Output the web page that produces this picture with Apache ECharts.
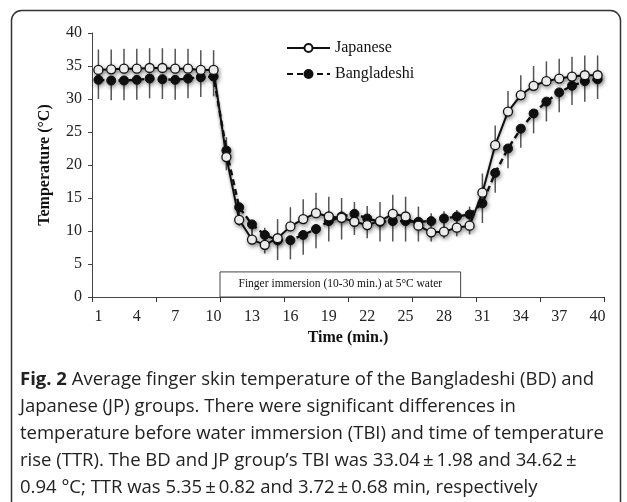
<!DOCTYPE html>
<html lang="en">
<head>
<meta charset="utf-8">
<title>Finger skin temperature</title>
<style>
  * { padding: 0; margin: 0; }
  html, body, #chart { width: 627px; height: 502px; background: #fff; }
</style>
</head>
<body>
<div id="chart"></div>
<script src="https://cdn.jsdelivr.net/npm/echarts@6/dist/echarts.min.js"></script>
<script>
// minutes 1..40
var minutes = [];
for (var m = 1; m <= 40; m++) minutes.push(String(m));

var japanese = [
  34.4, 34.5, 34.6, 34.6, 34.7, 34.7, 34.6, 34.6, 34.4, 34.4,
  21.2, 11.7, 8.7, 7.9, 8.9, 10.7, 11.8, 12.7, 12.2, 12.0,
  11.4, 10.9, 11.5, 12.6, 12.2, 10.8, 9.8, 9.9, 10.5, 10.8,
  15.8, 23.0, 28.1, 30.6, 32.0, 32.7, 33.1, 33.4, 33.6, 33.6
];
var bangladeshi = [
  32.9, 32.8, 32.8, 32.9, 33.1, 33.0, 32.9, 33.1, 33.3, 33.4,
  22.2, 13.6, 11.0, 9.4, 8.6, 8.6, 9.4, 10.3, 11.5, 12.2,
  12.6, 11.9, 11.4, 11.5, 11.5, 11.4, 11.5, 11.9, 12.2, 12.5,
  14.2, 18.8, 22.5, 25.5, 27.8, 29.6, 31.0, 32.0, 32.7, 33.0
];
// SD bars: Japanese drawn upward, Bangladeshi drawn downward
var japaneseSD = [
  3.1, 3.0, 3.0, 3.0, 3.0, 3.0, 3.0, 3.0, 3.0, 3.0,
  3.0, 2.5, 2.5, 2.6, 2.9, 2.9, 3.0, 3.1, 3.0, 3.0,
  3.0, 2.9, 2.9, 2.9, 3.0, 2.9, 2.9, 3.1, 2.7, 2.9,
  2.9, 3.0, 3.1, 3.0, 3.0, 3.0, 3.0, 3.0, 3.0, 3.0
];
var bangladeshiSD = [
  2.9, 3.0, 3.0, 3.0, 3.0, 3.0, 3.0, 3.0, 3.0, 3.0,
  3.0, 2.8, 2.8, 2.8, 3.0, 2.9, 3.0, 2.9, 3.1, 3.5,
  3.2, 3.0, 3.0, 3.1, 3.1, 3.0, 3.1, 3.0, 3.0, 3.0,
  3.0, 3.0, 3.0, 2.9, 3.0, 3.0, 3.0, 2.9, 3.1, 3.0
];
var immersionBox = [10.5, 29.3, 3.8]; // from, to (minute scale), height
var immersionText = 'Finger immersion (10-30 min.) at 5°C water';

var captionLines = [
  '{b|Fig. 2} Average finger skin temperature of the Bangladeshi (BD) and',
  'Japanese (JP) groups. There were significant differences in',
  'temperature before water immersion (TBI) and time of temperature',
  'rise (TTR). The BD and JP group\u2019s TBI was 33.04\u2009\u00b1\u20091.98 and 34.62\u2009\u00b1',
  '0.94 \u00b0C; TTR was 5.35\u2009\u00b1\u20090.82 and 3.72\u2009\u00b1\u20090.68 min, respectively'
];

var serif = '"Liberation Serif", "Times New Roman", serif';
var sans = '"Open Sans", "Noto Sans", sans-serif';

function barData(mean, sd, dir) {
  return mean.map(function (v, i) { return [i, v, v + dir * sd[i]]; });
}
function renderBar(params, api) {
  var p1 = api.coord([api.value(0), api.value(1)]);
  var p2 = api.coord([api.value(0), api.value(2)]);
  return {
    type: 'line',
    shape: { x1: p1[0], y1: p1[1], x2: p2[0], y2: p2[1] },
    style: { stroke: '#555', lineWidth: 1.5 }
  };
}

var graphics = [{
  type: 'rect', left: 9, top: 8, z: -1,
  shape: { width: 609, height: 520, r: 10 },
  style: { fill: 'none', stroke: '#333', lineWidth: 1.5 }
}];
captionLines.forEach(function (t, i) {
  graphics.push({
    type: 'text', left: 20, top: 370 + i * 27,
    style: {
      text: t, fill: '#222', font: '18.5px ' + sans,
      rich: { b: { fontWeight: 'bold', fontSize: 18.5, fontFamily: sans, fill: '#222' } }
    }
  });
});

var chart = echarts.init(document.getElementById('chart'));
chart.setOption({
  backgroundColor: '#fff',
  animation: false,
  grid: { left: 92, right: 23, top: 33, bottom: 205 },
  legend: {
    orient: 'vertical', left: 281, top: 35, itemWidth: 43, itemHeight: 10, itemGap: 10,
    textStyle: { fontFamily: serif, fontSize: 16, color: '#111' },
    data: ['Japanese', 'Bangladeshi']
  },
  xAxis: [{
    type: 'category', data: minutes, boundaryGap: true,
    name: 'Time (min.)', nameLocation: 'middle', nameGap: 32,
    nameTextStyle: { fontFamily: serif, fontSize: 16, fontWeight: 'bold', color: '#111' },
    axisLine: { lineStyle: { color: '#444', width: 1 } },
    axisTick: { show: true, interval: 4, length: 5, lineStyle: { color: '#333', width: 1 } },
    axisLabel: { interval: 2, fontFamily: serif, fontSize: 16, color: '#222', margin: 12 }
  }, {
    type: 'value', min: 0.5, max: 40.5, show: false
  }],
  yAxis: {
    type: 'value', min: 0, max: 40, interval: 5,
    name: 'Temperature (°C)', nameLocation: 'middle', nameGap: 39,
    nameTextStyle: { fontFamily: serif, fontSize: 16, fontWeight: 'bold', color: '#111' },
    axisLine: { show: true, lineStyle: { color: '#444', width: 1 } },
    axisTick: { show: true, length: 4, lineStyle: { color: '#444' } },
    splitLine: { show: false },
    axisLabel: { fontFamily: serif, fontSize: 16, color: '#222', margin: 10 }
  },
  graphic: graphics,
  series: [
    {
      type: 'custom', name: 'jpSD', z: 1, renderItem: renderBar,
      data: barData(japanese, japaneseSD, 1), encode: { x: 0, y: [1, 2] }, silent: true
    },
    {
      type: 'custom', name: 'bdSD', z: 1, renderItem: renderBar,
      data: barData(bangladeshi, bangladeshiSD, -1), encode: { x: 0, y: [1, 2] }, silent: true
    },
    {
      type: 'line', name: 'Bangladeshi', data: bangladeshi, z: 3,
      symbol: 'circle', symbolSize: 9, showAllSymbol: true,
      lineStyle: { color: '#111', width: 2.4, type: [6, 4],
        shadowBlur: 3, shadowColor: 'rgba(0,0,0,0.35)', shadowOffsetY: 2 },
      itemStyle: { color: '#111', borderColor: '#111', borderWidth: 1,
        shadowBlur: 4, shadowColor: 'rgba(0,0,0,0.4)', shadowOffsetX: 1, shadowOffsetY: 2 }
    },
    {
      type: 'line', name: 'Japanese', data: japanese, z: 4,
      symbol: 'circle', symbolSize: 9, showAllSymbol: true,
      lineStyle: { color: '#111', width: 2,
        shadowBlur: 3, shadowColor: 'rgba(0,0,0,0.35)', shadowOffsetY: 2 },
      itemStyle: { color: '#fff', borderColor: '#111', borderWidth: 1.3,
        shadowBlur: 4, shadowColor: 'rgba(0,0,0,0.4)', shadowOffsetX: 1, shadowOffsetY: 2 }
    },
    {
      type: 'line', name: 'box', xAxisIndex: 1, data: [], silent: true,
      markArea: {
        silent: true,
        itemStyle: { color: '#fff', borderColor: '#444', borderWidth: 1 },
        label: { show: true, position: 'inside', formatter: immersionText,
          fontFamily: serif, fontSize: 11.5, color: '#111' },
        data: [[{ coord: [immersionBox[0], 0] }, { coord: [immersionBox[1], immersionBox[2]] }]]
      }
    }
  ]
});
</script>
</body>
</html>
